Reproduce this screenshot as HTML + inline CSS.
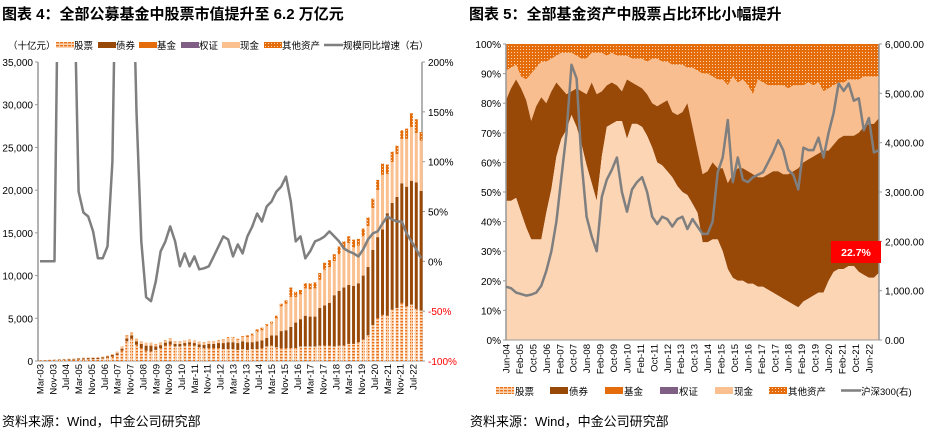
<!DOCTYPE html>
<html><head><meta charset="utf-8">
<style>
html,body{margin:0;padding:0;background:#fff;}
body{width:925px;height:433px;overflow:hidden;position:relative;font-family:"Liberation Sans","Noto Sans CJK SC",sans-serif;}
.title{position:absolute;top:3px;font-size:15px;font-weight:bold;color:#000;font-family:"Liberation Sans","Noto Sans CJK SC",sans-serif;}
.src{position:absolute;top:411px;font-size:13px;color:#000;}
svg text{font-family:"Liberation Sans","Noto Sans CJK SC",sans-serif;}
</style></head>
<body>
<div class="title" style="left:2px">图表 4：全部公募基金中股票市值提升至 6.2 万亿元</div>
<div class="title" style="left:469px">图表 5：全部基金资产中股票占比环比小幅提升</div>
<div class="src" style="left:2px">资料来源：Wind，中金公司研究部</div>
<div class="src" style="left:470px">资料来源：Wind，中金公司研究部</div>
<svg id="svg" width="925" height="433" style="position:absolute;left:0;top:0">
<defs>
<pattern id="pStock" width="4" height="3" patternUnits="userSpaceOnUse"><rect width="4" height="3" fill="#FBD3AE"/><rect x="0" y="0" width="3" height="1.4" fill="#E8701A"/></pattern>
<pattern id="pOther" width="3" height="3" patternUnits="userSpaceOnUse"><rect width="3" height="3" fill="#E46C0A"/><rect x="1" y="1" width="1" height="1" fill="#FBD3AE"/></pattern>
<clipPath id="clipL"><rect x="38" y="62" width="384" height="299"/></clipPath>
<clipPath id="clipR"><rect x="506" y="44" width="373" height="296"/></clipPath>
</defs>
<g id="left"></g><g id="right"></g>
</svg>
<script>
// ===== Left chart data (quarterly Mar-03 .. Dec-22, 十亿元) =====
const leftXLabels = ["Mar-03","Nov-03","Jul-04","Mar-05","Nov-05","Jul-06","Mar-07","Nov-07","Jul-08","Mar-09","Nov-09","Jul-10","Mar-11","Nov-11","Jul-12","Mar-13","Nov-13","Jul-14","Mar-15","Nov-15","Jul-16","Mar-17","Nov-17","Jul-18","Mar-19","Nov-19","Jul-20","Mar-21","Nov-21","Jul-22"];
const leftYTicks = [0,5000,10000,15000,20000,25000,30000,35000];
const leftY2Ticks = [-100,-50,0,50,100,150,200];
const stockVal = [60,70,85,100,120,140,160,170,170,180,190,200,230,280,380,500,700,1200,2300,2600,1900,1500,1200,1100,1300,1500,1800,1900,1700,1700,1800,1900,1800,1600,1500,1500,1500,1500,1400,1400,1400,1300,1400,1300,1400,1400,1500,1700,1800,1600,1500,1500,1500,1500,1700,1700,1700,1700,1800,1800,1800,1700,1800,1800,2000,2000,2200,2500,3000,4200,5000,5400,5300,6000,6200,6800,6400,6600,6100,5900];
const bondVal = [30,35,40,45,50,70,80,90,120,140,150,160,150,160,170,200,200,250,350,400,400,500,600,700,400,350,350,400,300,300,300,300,300,350,400,500,500,600,700,800,800,800,900,900,800,900,900,1000,1200,1400,2000,2100,2500,3000,3200,3600,3500,3500,4400,4700,5000,6000,6400,6800,6900,6800,6900,7500,8000,8800,9500,10000,12000,12500,13000,14000,14000,14500,14800,14000];
const cashVal = [10,10,15,15,20,25,25,30,40,50,60,60,60,70,80,100,150,200,250,250,250,250,300,300,250,250,250,300,250,250,250,250,250,250,250,250,250,300,400,500,500,400,500,600,800,1100,1200,1400,1400,2000,2900,3100,3500,3000,2900,3200,3200,3300,3300,4200,4200,4000,4300,4500,4900,4500,4400,4600,4800,4900,5500,6400,4600,4800,5000,5200,5600,6300,5800,5900];
const otherVal = [5,5,5,5,5,5,5,5,10,10,10,10,10,10,15,20,30,50,100,80,50,40,30,30,50,50,50,50,50,50,50,50,50,50,50,50,50,50,50,100,100,100,100,200,200,300,300,200,200,300,300,400,1100,600,500,600,700,700,800,800,800,800,900,900,800,900,800,900,1000,1100,1200,1300,1100,1200,1000,1000,1200,1600,1600,1000];
const growthPct = [0,0,0,0,400,600,500,300,70,49,45,30,3,3,15,100,400,500,500,350,150,20,-36,-40,-20,10,20,35,20,-5,8,-5,5,-8,-7,-5,5,15,25,22,5,17,8,25,35,48,40,55,60,70,75,85,60,20,25,3,10,20,22,25,30,25,20,13,10,8,5,12,22,28,30,38,45,42,40,40,28,20,12,3];

// ===== Right chart data (quarterly Jun-04 .. Dec-22) =====
const rightXLabels = ["Jun-04","Feb-05","Oct-05","Jun-06","Feb-07","Oct-07","Jun-08","Feb-09","Oct-09","Jun-10","Feb-11","Oct-11","Jun-12","Feb-13","Oct-13","Jun-14","Feb-15","Oct-15","Jun-16","Feb-17","Oct-17","Jun-18","Feb-19","Oct-19","Jun-20","Feb-21","Oct-21","Jun-22"];
const rightYTicks = [0,10,20,30,40,50,60,70,80,90,100];
const rightY2Ticks = [0,1000,2000,3000,4000,5000,6000];
const stockShare = [47,47,48,43,38,34,34,34,43,51,62,68,71,76,72,66,59,53,47,62,72,73,74,74,68,73,73,72,69,65,60,59,57,55,52,50,49,46,43,33,33,34,34,30,24,21,20,20,19,19,18,18,17,16,15,14,13,12,11,13,14,15,16,16,20,23,24,24,25,25,23,22,21,21,22.7];
const bondShare = [34,38,40,42,43,40,45,48,37,33,25,17,12,8,13,18,24,34,36,22,14,14,12,10,20,14,13,13,14,15,19,21,24,22,24,27,31,26,21,23,24,26,24,28,29,35,38,38,38,37,37,37,39,41,42,42,43,45,47,47,47,47,47,48,44,43,44,45,44,44,47,50,52,52,52.3];
const cashShare = [10,7,5,4,7,16,13,12,14,11,9,12,14,13,11,11,12,10,14,13,10,10,10,12,8,8,9,10,11,15,16,14,13,16,17,16,12,20,27,34,33,29,30,30,33,33,29,30,29,27,33,32,30,29,29,30,29,29,28,26,26,24,24,20,21,20,19,18,19,19,18,17,16,16,14];
const hs300 = [1080,1050,960,930,900,920,960,1100,1400,1800,2400,3300,4200,5580,5300,3600,2500,2100,1800,2900,3250,3450,3700,3000,2600,3050,3200,3300,3000,2500,2350,2500,2450,2300,2450,2500,2250,2450,2300,2150,2150,2400,3400,3700,4460,3200,3700,3250,3200,3300,3350,3400,3600,3800,4050,3850,3450,3350,3050,3900,3850,3850,4100,3700,4200,4600,5200,5050,5200,4850,4900,4250,4500,3800,3850];

const NS="http://www.w3.org/2000/svg";
function mk(parent,tag,attrs){const e=document.createElementNS(NS,tag);for(const k in attrs)e.setAttribute(k,attrs[k]);parent.appendChild(e);return e;}
const fmt=n=>n.toLocaleString('en-US');

// ---------- LEFT ----------
(function(){
const g=document.getElementById('left');
const X0=38,X1=422,Y0=361,Y1=62;
const mx0=40,mpx=1.608; // Mar-03 position and px per month
const xq=i=>mx0+i*3*mpx;
const y=v=>Y0-(v/35000)*(Y0-Y1);
const y2=p=>Y0-((p+100)/300)*(Y0-Y1);
// axes
let a=mk(g,'line',{x1:X0,y1:Y1,x2:X0,y2:Y0,stroke:'#999','stroke-width':1.5});

a=mk(g,'line',{x1:X1,y1:Y1,x2:X1,y2:Y0,stroke:'#999','stroke-width':1.5});

a=mk(g,'line',{x1:X0,y1:Y0,x2:X1,y2:Y0,stroke:'#999','stroke-width':1});

leftYTicks.forEach(v=>{const t=mk(g,'text',{x:X0-5,y:y(v)+4,'text-anchor':'end','font-size':10,fill:'#000'});t.textContent=fmt(v);

mk(g,'line',{x1:X0-3,x2:X0,y1:y(v),y2:y(v),stroke:'#999'});});
leftY2Ticks.forEach(v=>{const t=mk(g,'text',{x:X1+6,y:y2(v)+4,'font-size':10,fill:v<0?'#FF0000':'#000'});t.textContent=v+'%';

mk(g,'line',{x1:X1,x2:X1+3,y1:y2(v),y2:y2(v),stroke:'#999'});});
leftXLabels.forEach((l,i)=>{const x=mx0+i*8*mpx;const t=mk(g,'text',{transform:`translate(${x+3.5},364) rotate(-90)`,'text-anchor':'end','font-size':9.5,fill:'#000'});t.textContent=l;
});
// bars
const bw=3;
stockVal.forEach((s,i)=>{const x=xq(i)-bw/2;let base=0;
 const segs=[[s,'url(#pStock)','bar-stock'],[bondVal[i],'#984807','bar-bond'],[cashVal[i],'#FAC090','bar-cash'],[otherVal[i],'url(#pOther)','bar-other']];
 segs.forEach(([v,f,n])=>{const r=mk(g,'rect',{x:x,y:y(base+v),width:bw,height:y(base)-y(base+v),fill:f});
 base+=v;});});
// growth line
const pts=growthPct.map((p,i)=>xq(i).toFixed(1)+','+y2(p).toFixed(1)).join(' ');
const pl=mk(g,'polyline',{points:pts,fill:'none',stroke:'#7F7F7F','stroke-width':2.5,'clip-path':'url(#clipL)','stroke-linejoin':'round'});

// legend
const lg=mk(g,'g',{});
const ut=mk(lg,'text',{x:8,y:49,'font-size':9.5,fill:'#000'});ut.textContent='（十亿元）';

const items=[[56,'股票','url(#pStock)'],[98,'债券','#984807'],[139,'基金','#E46C0A'],[181,'权证','#7F6084'],[222,'现金','#FAC090'],[264,'其他资产','url(#pOther)']];
items.forEach(([x,l,f])=>{const r=mk(lg,'rect',{x:x,y:42,width:18,height:6,fill:f});
const t=mk(lg,'text',{x:x+18,y:49,'font-size':9.5,fill:'#000'});t.textContent=l;});
mk(lg,'line',{x1:324,x2:343,y1:45,y2:45,stroke:'#7F7F7F','stroke-width':2.5});
const t2=mk(lg,'text',{x:343,y:49,'font-size':9.5,fill:'#000'});t2.textContent='规模同比增速（右）';
})();

// ---------- RIGHT ----------
(function(){
const g=document.getElementById('right');
const X0=506,X1=879,Y0=340,Y1=44;
const mpx=1.68;
const xq=i=>X0+i*3*mpx;
const y=p=>Y0-(p/100)*(Y0-Y1);
const y2=v=>Y0-(v/6000)*(Y0-Y1);
const n=stockShare.length;
function area(lowArr,highArr,fill,name){
 let d='M'+xq(0)+','+y(highArr[0]);
 for(let i=1;i<n;i++)d+=' L'+xq(i).toFixed(1)+','+y(highArr[i]).toFixed(1);
 for(let i=n-1;i>=0;i--)d+=' L'+xq(i).toFixed(1)+','+y(lowArr[i]).toFixed(1);
 const p=mk(g,'path',{d:d+'Z',fill:fill,'clip-path':'url(#clipR)'});
 }
const zero=stockShare.map(()=>0);
const c1=stockShare.slice();
const c2=c1.map((v,i)=>v+bondShare[i]);
const c3=c2.map((v,i)=>v+cashShare[i]);
const full=stockShare.map(()=>100);
area(c3,full,'url(#pOther)','area-other');
area(c2,c3,'#F9BE8F','area-cash');
area(c1,c2,'#984807','area-bond');
area(zero,c1,'#FCD5B5','area-stock');
// axes
let a=mk(g,'line',{x1:X0,y1:Y1,x2:X0,y2:Y0,stroke:'#999','stroke-width':1.5});
a=mk(g,'line',{x1:X1,y1:Y1,x2:X1,y2:Y0,stroke:'#999','stroke-width':1.5});
a=mk(g,'line',{x1:X0,y1:Y0,x2:X1,y2:Y0,stroke:'#999','stroke-width':1});
rightYTicks.forEach(v=>{const t=mk(g,'text',{x:X0-5,y:y(v)+4,'text-anchor':'end','font-size':10,fill:'#000'});t.textContent=v+'%';
mk(g,'line',{x1:X0-3,x2:X0,y1:y(v),y2:y(v),stroke:'#999'});});
rightY2Ticks.forEach(v=>{const t=mk(g,'text',{x:X1+6,y:y2(v)+4,'font-size':10,fill:'#000'});t.textContent=fmt(v)+'.00';
mk(g,'line',{x1:X1,x2:X1+3,y1:y2(v),y2:y2(v),stroke:'#999'});});
rightXLabels.forEach((l,i)=>{const x=X0+i*8*mpx;const t=mk(g,'text',{transform:`translate(${x+3.5},344) rotate(-90)`,'text-anchor':'end','font-size':9.5,fill:'#000'});t.textContent=l;
});
// hs300 line
const pts=hs300.map((v,i)=>xq(i).toFixed(1)+','+y2(v).toFixed(1)).join(' ');
const pl=mk(g,'polyline',{points:pts,fill:'none',stroke:'#7F7F7F','stroke-width':2.5,'stroke-linejoin':'round'});

// callout
const cb=mk(g,'rect',{x:831,y:241,width:50,height:22,fill:'#FF0000'});
const ct=mk(g,'text',{x:856,y:256,'text-anchor':'middle','font-size':10.5,'font-weight':'bold',fill:'#fff'});ct.textContent='22.7%';

// legend
const lg=mk(g,'g',{});
const items=[[496,'股票','url(#pStock)'],[550,'债券','#984807'],[605,'基金','#E46C0A'],[660,'权证','#7F6084'],[715,'现金','#FAC090'],[769,'其他资产','url(#pOther)']];
items.forEach(([x,l,f])=>{const r=mk(lg,'rect',{x:x,y:387,width:18,height:7,fill:f});
const t=mk(lg,'text',{x:x+19,y:395,'font-size':9.5,fill:'#000'});t.textContent=l;});
mk(lg,'line',{x1:841,x2:861,y1:390.5,y2:390.5,stroke:'#7F7F7F','stroke-width':2.5});
const t2=mk(lg,'text',{x:861,y:395,'font-size':9.5,fill:'#000'});t2.textContent='沪深300(右)';
})();
</script>
</body></html>
